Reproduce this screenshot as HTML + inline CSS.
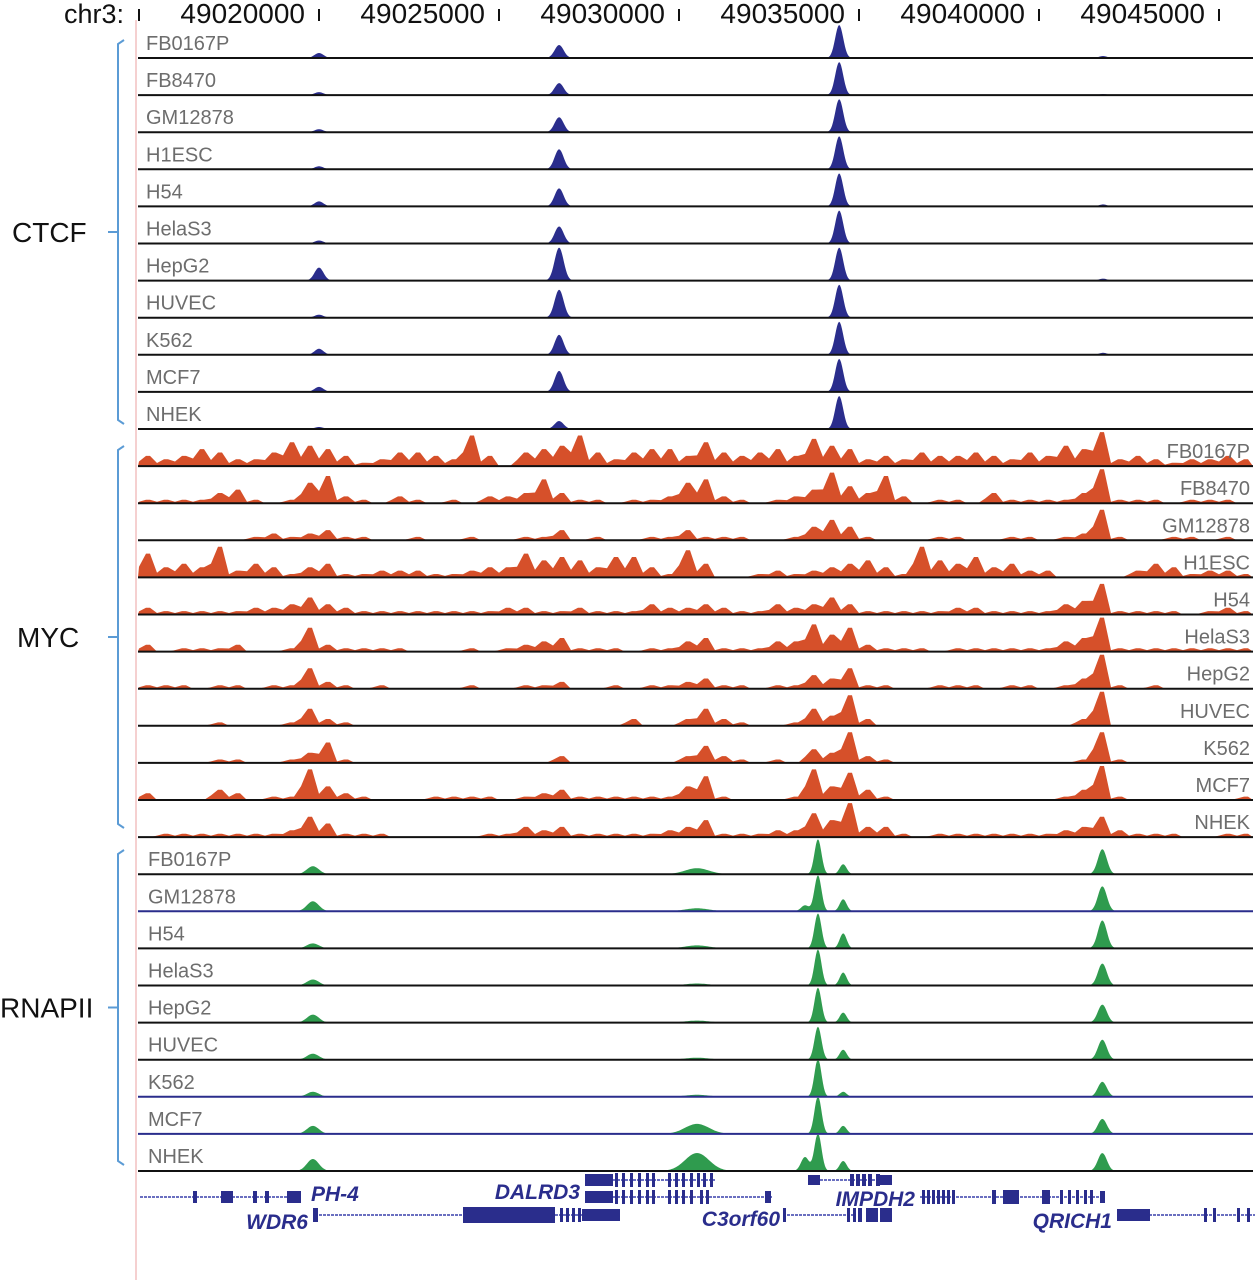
<!DOCTYPE html>
<html><head><meta charset="utf-8">
<style>
html,body{margin:0;padding:0;background:#fff;}
svg{display:block;font-family:"Liberation Sans",sans-serif;}
</style></head>
<body>
<svg id="chart" width="1257" height="1280" viewBox="0 0 1257 1280" xmlns="http://www.w3.org/2000/svg">
<line x1="136" y1="20" x2="136" y2="1280" stroke="#f2c0c0" stroke-width="1.5"/>
<g id="axis"></g>
<g id="tracks"></g>
<g id="groups"></g>
<g id="genes"></g>
</svg>
<script>
const tickPositions = [49020000, 49025000, 49030000, 49035000, 49040000, 49045000];
const tickLabels = ["49020000","49025000","49030000","49035000","49040000","49045000"];
const cellLines = ["FB0167P","FB8470","GM12878","H1ESC","H54","HelaS3","HepG2","HUVEC","K562","MCF7","NHEK"];
const rnapCells = ["FB0167P","GM12878","H54","HelaS3","HepG2","HUVEC","K562","MCF7","NHEK"];
const ctcfPeakPos = [49020000, 49026670, 49034450, 49041780];
const ctcfHeights = [[5,13,33,2],[3,12,33,1],[3,15,33,0],[3,20,33,0],[5,18,33,2],[3,17,33,0],[13,33,33,2],[3,28,33,0],[6,20,33,2],[5,21,33,0],[2,8,33,0]];
const rnapPeakPos = [49019830, 49030500, 49033500, 49033860, 49034560, 49041760];
const rnapHeights = [[8,6,0,35,10,25],[10,3,6,36,12,25],[5,3,0,35,15,28],[6,2,0,36,13,22],[8,2,0,35,10,18],[6,2,0,33,10,20],[5,2,0,38,5,15],[8,10,0,38,8,15],[12,18,14,38,10,18]];
const mycBinStart = 49015000;
const mycBinSize = 500;
const myc_FB0167P=[3,2,3,5,4,2,2,4,7,6,5,3,1,2,4,4,3,2,9,3,0,4,5,6,9,4,2,4,5,5,3,7,4,3,4,5,3,8,6,5,2,3,2,4,3,3,4,3,2,4,3,6,5,10,2,3,2,1,2,2,3,2];
const myc_FB8470=[1,1,1,1,3,4,1,0,1,6,8,2,1,0,2,1,0,1,0,2,2,3,7,3,1,1,0,1,1,2,6,7,2,1,0,1,2,4,9,5,3,8,2,0,1,1,0,3,1,1,1,1,3,10,1,1,1,0,1,1,1,0];
const myc_GM12878=[0,0,0,0,0,0,1,2,1,2,3,1,1,0,0,1,0,0,1,0,0,1,1,3,0,1,0,0,1,1,3,1,1,1,0,0,1,4,6,4,1,0,0,0,1,1,0,0,1,1,0,1,2,9,1,0,0,1,1,0,1,0];
const myc_H1ESC=[7,3,4,3,9,2,4,3,1,3,4,1,1,2,2,2,1,1,2,3,3,7,5,6,5,3,6,6,3,1,8,4,0,0,1,2,1,2,3,4,5,3,1,9,5,4,6,3,4,2,2,0,0,0,0,2,4,3,1,2,2,1];
const myc_H54=[2,1,1,1,1,1,2,2,3,5,3,2,1,1,1,1,1,1,1,1,2,2,1,1,2,1,1,1,3,2,2,3,2,1,1,3,2,3,5,3,1,1,1,1,1,2,2,1,1,1,1,3,4,9,1,1,1,1,0,1,2,1];
const myc_HelaS3=[2,0,1,1,1,2,0,0,1,7,2,1,1,1,1,0,0,0,1,0,1,2,3,4,1,1,1,0,1,1,3,4,1,1,1,3,3,8,5,7,2,1,1,1,0,1,1,1,1,1,1,3,4,10,1,1,1,1,1,1,1,1];
const myc_HepG2=[1,1,1,0,1,1,0,1,1,6,2,1,0,1,0,0,0,0,1,0,0,1,1,2,0,0,1,0,1,1,2,3,1,1,0,1,1,4,3,6,1,1,0,0,1,1,1,0,1,1,0,1,3,10,1,0,1,0,0,0,0,0];
const myc_HUVEC=[0,0,0,0,1,0,0,0,1,5,2,1,0,0,0,0,0,0,0,0,0,0,0,0,0,0,0,2,0,0,2,5,2,1,0,0,1,5,3,9,2,0,0,0,0,0,0,0,0,0,0,0,2,10,0,0,0,0,0,0,0,0];
const myc_K562=[0,0,0,0,1,1,0,0,1,3,6,1,0,0,0,0,0,0,0,0,0,0,0,2,0,0,0,0,0,0,2,5,2,1,0,1,0,4,3,9,2,1,0,0,0,0,0,0,0,0,0,0,1,9,1,0,0,0,0,0,0,0];
const myc_MCF7=[2,0,0,0,3,2,0,1,1,9,4,2,1,0,0,0,1,1,1,1,0,1,2,3,1,1,1,1,1,1,4,7,1,0,0,0,1,9,4,8,3,1,0,0,0,0,0,0,0,0,0,1,3,10,1,0,0,0,0,0,0,1];
const myc_NHEK=[0,1,1,1,1,1,1,1,2,6,4,1,1,1,0,0,0,0,0,1,1,3,2,3,1,1,1,1,1,2,3,5,1,1,1,2,2,7,5,10,3,3,1,0,1,1,1,1,1,1,1,2,3,6,2,1,1,1,0,0,1,1];
const mycSeries=[myc_FB0167P,myc_FB8470,myc_GM12878,myc_H1ESC,myc_H54,myc_HelaS3,myc_HepG2,myc_HUVEC,myc_K562,myc_MCF7,myc_NHEK];

const NS="http://www.w3.org/2000/svg";
const svg=document.getElementById('chart');
function mk(tag,attrs,parent){const e=document.createElementNS(NS,tag);for(const k in attrs)e.setAttribute(k,attrs[k]);parent.appendChild(e);return e;}
function xS(bp){return 139+(bp-49015000)*0.036;}
function yBase(k){return 58+k*37.1;}
const X0=138,X1=1253;

const ax=document.getElementById('axis');
let t=mk('text',{x:64,y:23,'font-size':27,fill:'#111'},ax);t.textContent='chr3:';


tickPositions.forEach((p,i)=>{
  const x=xS(p);
  const l=mk('line',{x1:x,y1:9,x2:x,y2:21,stroke:'#111','stroke-width':2},ax);
  
  
  const tx=mk('text',{x:x-14,y:23,'font-size':28,fill:'#111','text-anchor':'end'},ax);
  tx.textContent=tickLabels[i];
  
  
});
const l0=mk('line',{x1:139,y1:9,x2:139,y2:21,stroke:'#111','stroke-width':2},ax);



const tr=document.getElementById('tracks');
function peakPath(base,positions,heights,sig){
  let pts=[];
  for(let x=X0;x<=X1;x+=1){
    let h=0;
    positions.forEach((p,j)=>{const d=(x-xS(p))/sig[j];h+=heights[j]*Math.exp(-d*d/2);});
    pts.push(x+','+(base-Math.min(h,36)).toFixed(1));
  }
  return 'M'+X0+','+base+' L'+pts.join(' L')+' L'+X1+','+base+' Z';
}
function label(txt,x,y,anchor,name){
  const e=mk('text',{x:x,y:y,'font-size':20,fill:'#6d6d6d','text-anchor':anchor},tr);
  e.textContent=txt;
  
  
}
cellLines.forEach((c,k)=>{
  const b=yBase(k);
  const g=mk('g',{},tr);
  
  
  const p=mk('path',{d:peakPath(b,ctcfPeakPos,ctcfHeights[k],[4.5,4.5,4,4]),fill:'#2a2d8c'},g);
  
  
  const ln=mk('line',{x1:X0,y1:b,x2:X1,y2:b,stroke:'#111','stroke-width':2},g);
  
  
  label(c,146,b-8,'start','ctcf-track-label');
});
cellLines.forEach((c,k)=>{
  const b=yBase(11+k);
  const g=mk('g',{},tr);
  
  
  const vals=mycSeries[k];
  let d='M'+X0+','+b;
  vals.forEach((v,i)=>{
    const xa=xS(mycBinStart+i*mycBinSize), xb=xS(mycBinStart+(i+1)*mycBinSize);
    const xm=(xa+xb)/2, h=v*3.4;
    d+=' L'+xa.toFixed(1)+','+(b-h*0.45).toFixed(1)+' L'+(xm-2).toFixed(1)+','+(b-h).toFixed(1)+' L'+(xm+2).toFixed(1)+','+(b-h).toFixed(1);
  });
  d+=' L'+X1+','+b+' Z';
  const p=mk('path',{d:d,fill:'#d6502a'},g);
  
  
  const ln=mk('line',{x1:X0,y1:b,x2:X1,y2:b,stroke:'#111','stroke-width':2},g);
  
  
  label(c,1250,b-8,'end','myc-track-label');
});
const navyBase=["GM12878","K562","MCF7"];
rnapCells.forEach((c,k)=>{
  const b=yBase(22+k);
  const g=mk('g',{},tr);
  
  
  const p=mk('path',{d:peakPath(b,rnapPeakPos,rnapHeights[k],[6,12,4,3.5,3.5,4.5]),fill:'#2f9b4e'},g);
  
  
  const ln=mk('line',{x1:X0,y1:b,x2:X1,y2:b,stroke:navyBase.includes(c)?'#2a2d8c':'#111','stroke-width':2},g);
  
  
  label(c,148,b-8,'start','rnapii-track-label');
});

const gr=document.getElementById('groups');
[["CTCF",40,424,12,"ctcf"],["MYC",446,828,17,"myc"],["RNAPII",850,1165,0,"rnapii"]].forEach(a=>{
  const [name,y1,y2,tx,key]=a, ym=(y1+y2)/2;
  const br=mk('path',{d:`M124,${y1} L118,${y1+4} L118,${y2-4} L124,${y2} M118,${ym} L108,${ym}`,fill:'none',stroke:'#5b9bd5','stroke-width':2},gr);
  
  
  const e=mk('text',{x:tx,y:ym+10,'font-size':28,fill:'#111'},gr);
  e.textContent=name;
  
  
});

const gn=document.getElementById('genes');
const C='#2a2d8c';
function gline(x1,x2,y){const e=mk('line',{x1:x1,y1:y,x2:x2,y2:y,stroke:'#6a6fc0','stroke-width':2,'stroke-dasharray':'3,1'},gn);}
function ex(x,w,y,h){const e=mk('rect',{x:x,y:y-h/2,width:w,height:h,fill:C},gn);}
function glab(t,x,y,anchor){const e=mk('text',{x:x,y:y,'font-size':21,'font-style':'italic','font-weight':'bold',fill:C,'text-anchor':anchor},gn);e.textContent=t;}
gline(140,300,1197);[[193,4],[221,12],[253,4],[265,4],[287,14]].forEach(a=>ex(a[0],a[1],1197,12));
glab('PH-4',311,1201,'start');
gline(315,620,1215);ex(313,5,1215,14);ex(463,92,1215,16);[[560,3],[566,3],[572,3],[578,3]].forEach(a=>ex(a[0],a[1],1215,14));ex(582,38,1215,12);
glab('WDR6',308,1229,'end');
gline(585,715,1180);ex(585,28,1180,12);[615,622,630,638,646,652,668,675,682,690,697,703,710].forEach(x=>ex(x,3,1180,14));
gline(585,772,1197);ex(585,28,1197,12);[615,622,630,638,646,652,668,675,682,690,700,706].forEach(x=>ex(x,3,1197,14));ex(765,6,1197,12);
glab('DALRD3',580,1199,'end');
gline(808,890,1180);ex(808,12,1180,10);[850,856,862,868,876].forEach(x=>ex(x,4,1180,12));ex(880,12,1180,10);
glab('C3orf60',780,1226,'end');gline(783,855,1215);[[783,3],[847,3],[853,3],[858,4],[866,12],[880,12]].forEach(a=>ex(a[0],a[1],1215,14));
glab('IMPDH2',915,1206,'end');gline(920,1105,1197);[922,927,932,937,942,947,952].forEach(x=>ex(x,3,1197,14));ex(992,4,1197,14);ex(1003,16,1197,14);ex(1042,8,1197,14);[1060,1068,1076,1084,1090].forEach(x=>ex(x,3,1197,14));ex(1100,5,1197,12);
glab('QRICH1',1112,1228,'end');gline(1117,1255,1215);ex(1117,33,1215,12);[[1204,3],[1213,3],[1237,3],[1247,3]].forEach(a=>ex(a[0],a[1],1215,14));
</script>
</body></html>
